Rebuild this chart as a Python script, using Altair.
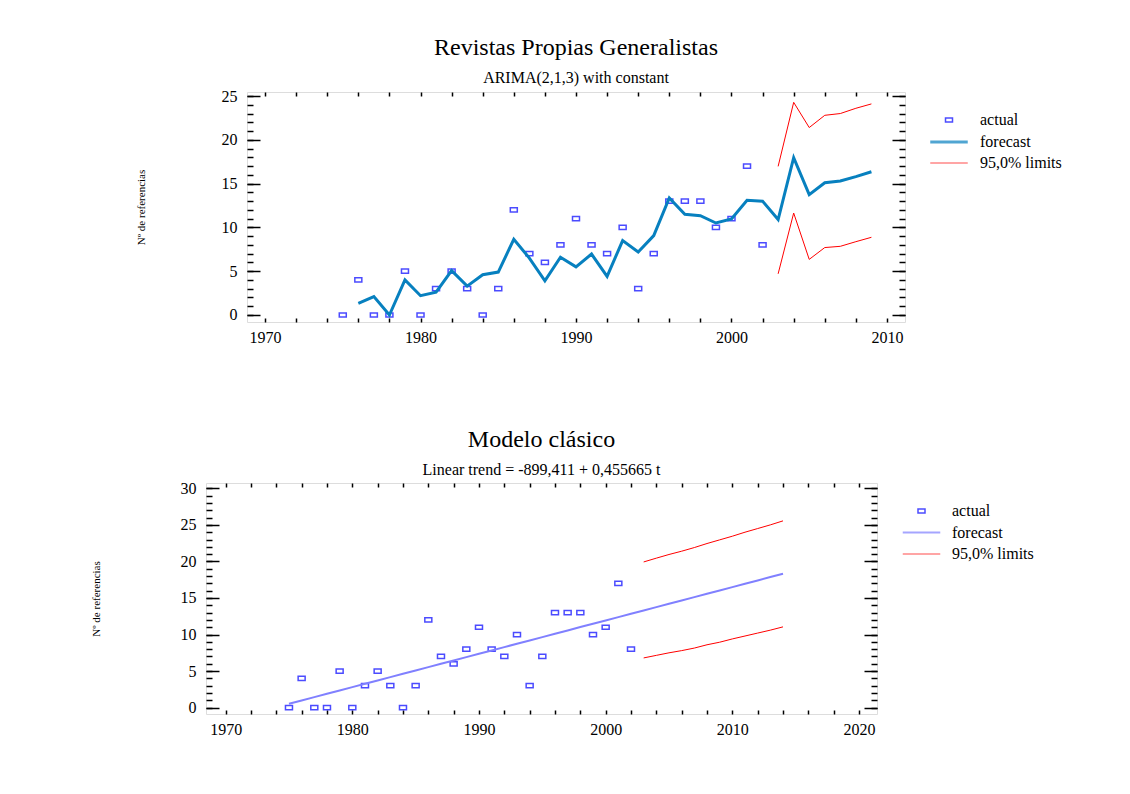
import altair as alt
import pandas as pd

# ---------------- data ----------------
SERIES = ["actual", "forecast", "95,0% limits"]

actual_years = list(range(1975, 2003))
actual_values = [0, 4, 0, 0, 5, 0, 3, 5, 3, 0, 3, 12, 7, 6, 8, 11, 8, 7, 10, 3,
                 7, 13, 13, 13, 10, 11, 17, 8]

arima_years = list(range(1976, 2010))
arima_forecast = [1.33, 2.1, 0.0, 4.0, 2.2, 2.6, 5.06, 3.3, 4.6, 4.9, 8.64, 6.5,
                  3.9, 6.6, 5.5, 6.96, 4.4, 8.5, 7.2, 9.06, 13.36, 11.5, 11.34,
                  10.5, 10.96, 13.1, 13.0, 10.9, 17.96, 13.74, 15.1, 15.3, 15.8,
                  16.36]
arima_limit_years = list(range(2003, 2010))
arima_upper = [16.97, 24.28, 21.4, 22.8, 23.0, 23.6, 24.1]
arima_lower = [4.7, 11.64, 6.35, 7.7, 7.84, 8.37, 8.87]

trend_years = list(range(1975, 2015))
trend_forecast = [0.53, 0.98, 1.44, 1.89, 2.35, 2.81, 3.26, 3.72, 4.17, 4.63,
                  5.09, 5.54, 6.00, 6.46, 6.91, 7.37, 7.82, 8.28, 8.74, 9.19,
                  9.65, 10.10, 10.56, 11.02, 11.47, 11.93, 12.38, 12.84, 13.30,
                  13.75, 14.21, 14.66, 15.12, 15.58, 16.03, 16.49, 16.94, 17.40,
                  17.86, 18.31]
trend_limit_years = list(range(2003, 2015))
trend_upper = [19.93, 20.45, 20.95, 21.4, 21.9, 22.45, 22.95, 23.45, 24.0, 24.5,
               25.0, 25.55]
trend_lower = [6.8, 7.15, 7.5, 7.8, 8.15, 8.6, 8.95, 9.4, 9.8, 10.2, 10.6, 11.05]

top_x_labels = [1970, 1980, 1990, 2000, 2010]
top_x_minor = list(range(1970, 2011, 2))
top_y_major = [0, 5, 10, 15, 20, 25]
top_y_minor = list(range(0, 26))

bot_x_labels = [1970, 1980, 1990, 2000, 2010, 2020]
bot_x_minor = list(range(1970, 2021, 2))
bot_y_major = [0, 5, 10, 15, 20, 25, 30]
bot_y_minor = list(range(0, 31))

FONT = "Liberation Serif"
RECT = "M-1,-0.6H1V0.6H-1Z"
LINE = "M-2.5,0H2.5"
YTITLE = "Nº de referencias"
INDEP = dict(color="independent", shape="independent", size="independent",
             strokeWidth="independent")


def make_panel(a_years, a_vals, f_years, f_vals, l_years, l_up, l_lo,
               W, H, xdom, ydom, xlab, xmin, ymaj, ymin,
               title, subtitle, fc_color, fc_width, title_pad, legend_dx):
    act = pd.DataFrame({"year": a_years, "value": a_vals, "series": "actual"})
    fc = pd.DataFrame({"year": f_years, "value": f_vals, "series": "forecast"})
    lim = pd.concat([
        pd.DataFrame({"year": l_years, "value": l_up, "bound": "upper"}),
        pd.DataFrame({"year": l_years, "value": l_lo, "bound": "lower"}),
    ])
    lim["series"] = "95,0% limits"

    xs = alt.Scale(domain=xdom, nice=False, zero=False)
    ys = alt.Scale(domain=ydom, nice=False, zero=False)
    cs = alt.Scale(domain=SERIES, range=["#0000ff", fc_color, "#ff0000"])
    shs = alt.Scale(domain=SERIES, range=[RECT, LINE, LINE])
    szs = alt.Scale(type="ordinal", domain=SERIES, range=[49, 225, 225])
    sws = alt.Scale(type="ordinal", domain=SERIES, range=[1.5, fc_width, 1])

    legend = alt.Legend(
        title=None, orient="none", legendX=W + legend_dx, legendY=20,
        labelFont=FONT, labelFontSize=16, labelOffset=22, rowPadding=5,
        labelColor="black", symbolFillColor="transparent",
    )

    def enc_common():
        return dict(
            color=alt.Color("series:N", scale=cs, legend=legend),
            strokeWidth=alt.StrokeWidth("series:N", scale=sws, legend=legend),
        )

    def tick_axis(orient, offset, values, size):
        return alt.Axis(orient=orient, offset=offset, values=values, labels=False,
                        ticks=True, tickSize=size, tickWidth=1.5, tickColor="black",
                        domain=False, grid=False, title=None)

    pts = alt.Chart(act).mark_point(filled=False).encode(
        x=alt.X("year:Q", scale=xs,
                axis=alt.Axis(orient="bottom", values=xlab, format="d", ticks=False,
                              tickSize=0, labelPadding=7, domain=False, grid=False,
                              title=None, labelFont=FONT, labelFontSize=16,
                              labelColor="black")),
        y=alt.Y("value:Q", scale=ys,
                axis=alt.Axis(orient="left", values=ymaj, ticks=False, tickSize=0,
                              labelPadding=10, domain=False, grid=False,
                              labelFont=FONT, labelFontSize=16, labelColor="black",
                              title=YTITLE, titleFont=FONT,
                              titleFontSize=11, titleFontWeight="normal",
                              titleColor="black", titlePadding=title_pad)),
        shape=alt.Shape("series:N", scale=shs, legend=legend),
        size=alt.Size("series:N", scale=szs, legend=legend),
        **enc_common(),
    )
    fcl = alt.Chart(fc).mark_line().encode(
        x=alt.X("year:Q", scale=xs, axis=tick_axis("top", -H, xmin, 4)),
        y=alt.Y("value:Q", scale=ys, axis=tick_axis("right", -W, ymin, 6)),
        **enc_common(),
    )
    liml = alt.Chart(lim).mark_line().encode(
        x=alt.X("year:Q", scale=xs, axis=tick_axis("bottom", -H, xmin, 4)),
        y=alt.Y("value:Q", scale=ys, axis=tick_axis("left", -W, ymin, 6)),
        detail="bound:N",
        **enc_common(),
    )
    ax1 = alt.Chart(act).mark_point(opacity=0).encode(
        x=alt.X("year:Q", scale=xs, axis=None),
        y=alt.Y("value:Q", scale=ys, axis=tick_axis("right", -W, ymaj, 13)),
    )
    ax2 = alt.Chart(act).mark_point(opacity=0).encode(
        x=alt.X("year:Q", scale=xs, axis=None),
        y=alt.Y("value:Q", scale=ys, axis=tick_axis("left", -W, ymaj, 13)),
    )
    return alt.layer(pts, fcl, liml, ax1, ax2).resolve_axis(
        x="independent", y="independent"
    ).properties(
        width=W, height=H,
        title=alt.Title(title, subtitle=subtitle, font=FONT, fontSize=24,
                        fontWeight="normal", subtitleFont=FONT, subtitleFontSize=16,
                        subtitleColor="black", color="black", anchor="middle",
                        frame="group", offset=2, subtitlePadding=10),
    )


def spacer(w):
    # empty, borderless view that only takes horizontal room
    return alt.Chart(pd.DataFrame({"v": [0]})).mark_rule(opacity=0).encode(
        x=alt.X("v:Q", axis=None), y=alt.Y("v:Q", axis=None)
    ).properties(width=w, height=1,
                 view=alt.ViewBackground(stroke="transparent"))


top = make_panel(actual_years, actual_values, arima_years, arima_forecast,
                 arima_limit_years, arima_upper, arima_lower,
                 658, 230, [1968.84, 2011.16], [-0.8, 25.46],
                 top_x_labels, top_x_minor, top_y_major, top_y_minor,
                 "Revistas Propias Generalistas", "ARIMA(2,1,3) with constant",
                 "#0780bf", 3, 75, 35)

bottom = make_panel(actual_years, actual_values, trend_years, trend_forecast,
                    trend_limit_years, trend_upper, trend_lower,
                    671, 231, [1968.45, 2021.42], [-0.87, 30.73],
                    bot_x_labels, bot_x_minor, bot_y_major, bot_y_minor,
                    "Modelo clásico", "Linear trend = -899,411 + 0,455665 t",
                    "#8080ff", 2, 79, 36)

top_row = alt.hconcat(spacer(46), top, spacing=0).resolve_scale(**INDEP)
bottom_row = alt.hconcat(spacer(1), bottom, spacing=0).resolve_scale(**INDEP)

chart = alt.vconcat(top_row, bottom_row, spacing=81).resolve_scale(
    **INDEP
).properties(
    padding={"left": 78, "top": 27, "right": 5, "bottom": 5}
).configure_view(
    stroke="black", strokeWidth=2
).configure(
    font=FONT, background="white"
)

chart.save("out.html", embed_options={"renderer": "svg", "actions": False})
